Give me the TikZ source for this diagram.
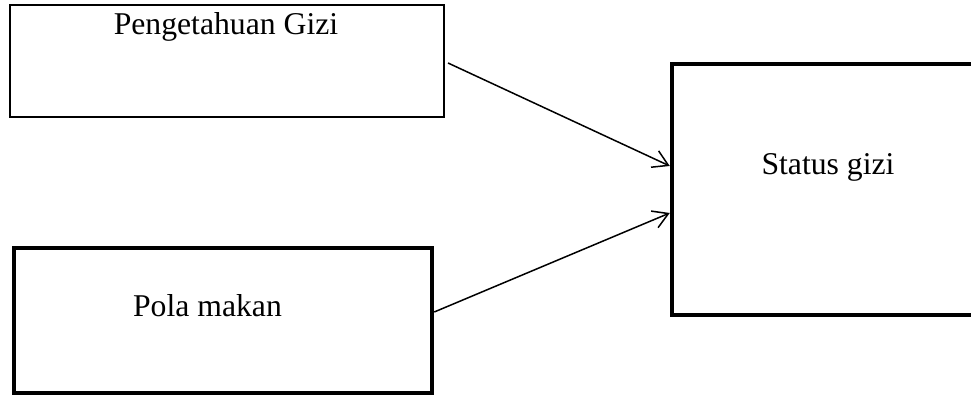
\documentclass[tikz,border=0pt]{standalone}
\usepackage{fontspec}
\setmainfont{Liberation Serif}
\usetikzlibrary{arrows.meta}
\begin{document}
\begin{tikzpicture}[x=1pt,y=1pt,
  thinbox/.style={draw=black,line width=2pt,rectangle,inner sep=0pt},
  thickbox/.style={draw=black,line width=4.5pt,rectangle,inner sep=0pt},
  lbl/.style={font=\fontsize{31.7}{36}\selectfont,anchor=base,inner sep=0pt},
  arr/.style={line width=1.5pt,-{Straight Barb[length=15pt,width=18pt,line width=1.5pt]}}]
  \useasboundingbox (0,0) rectangle (971,396);
  \begin{scope}
    \clip (0,0) rectangle (971,396);
    % input boxes
    \node[thinbox,minimum width=434pt,minimum height=112pt] (pg) at (227,335) {};
    \node[thickbox,minimum width=418pt,minimum height=145pt] (pm) at (223,75.5) {};
    % outcome box, running past the right edge
    \node[thickbox,minimum width=330pt,minimum height=251pt] (sg) at (837,206.5) {};
  \end{scope}
  % labels
  \node[lbl] (tpg) at (226,361) {Pengetahuan Gizi};
  \node[lbl] (tpm) at (207.5,79) {Pola makan};
  \node[lbl] (tsg) at (828,221) {Status gizi};
  % connectors
  \draw[arr] ([xshift=3pt,yshift=-2pt]pg.east) -- ([yshift=23.5pt]sg.west);
  \draw[arr] ([yshift=8.5pt]pm.east) -- ([yshift=-23.5pt]sg.west);
\end{tikzpicture}
\end{document}
